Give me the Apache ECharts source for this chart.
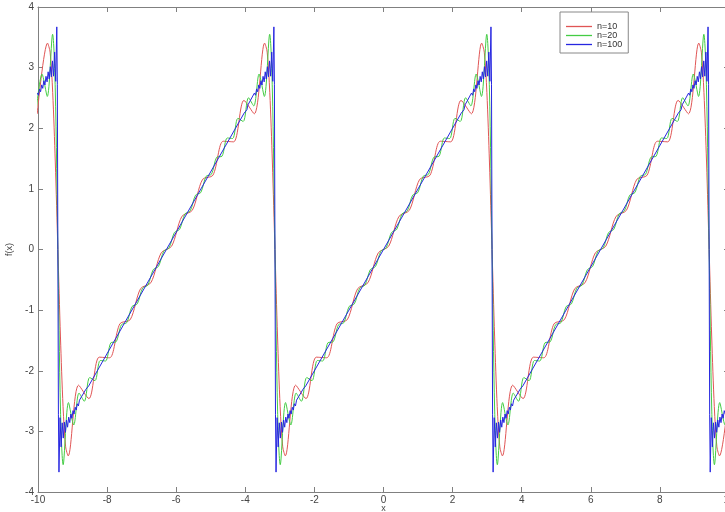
<!DOCTYPE html>
<html>
<head>
<meta charset="utf-8">
<script src="https://cdn.jsdelivr.net/npm/echarts@6/dist/echarts.min.js"></script>
<style>
html,body{margin:0;padding:0;background:#fff;}
#chart{width:725px;height:512px;}
</style>
</head>
<body>
<div id="chart"></div>
<script>
// Axis settings
const xTicks = [-10, -8, -6, -4, -2, 0, 2, 4, 6, 8, 10];
const yTicks = [-4, -3, -2, -1, 0, 1, 2, 3, 4];
const seriesNames = ['n=10', 'n=20', 'n=100'];

// n=10 partial sum
const redX = [
-10.0232,-9.7240,-9.6498,-9.5748,-9.4998,
-9.4248,-9.3498,-9.2748,-9.1998,-9.1256,-8.8264,-8.5272,-8.2280,-7.9288,-7.6296,-7.3304,-7.0312,-6.7320,-6.4328,
-6.1336,-5.8344,-5.5352,-5.2360,-4.9368,-4.6376,-4.3384,-4.0392,-3.7400,-3.4408,-3.3666,-3.2916,-3.2166,
-3.1416,-3.0666,-2.9916,-2.9166,-2.8424,-2.5432,-2.2440,-1.9448,-1.6456,-1.3464,-1.0472,-0.7480,-0.4488,-0.1496,
0.1496,0.4488,0.7480,1.0472,1.3464,1.6456,1.9448,2.2440,2.5432,2.8424,2.9166,2.9916,3.0666,
3.1416,3.2166,3.2916,3.3666,3.4408,3.7400,4.0392,4.3384,4.6376,4.9368,5.2360,5.5352,5.8344,6.1336,
6.4328,6.7320,7.0312,7.3304,7.6296,7.9288,8.2280,8.5272,8.8264,9.1256,9.1998,9.2748,9.3498,
9.4248,9.4998,9.5748,9.6498,9.7240,10.0232
];
const redY = [
2.238,3.404,3.255,2.592,1.443,
0,-1.443,-2.592,-3.255,-3.404,-2.238,-2.459,-1.776,-1.786,-1.224,-1.157,-0.646,-0.547,-0.054,
0.054,0.547,0.646,1.157,1.224,1.786,1.776,2.459,2.238,3.404,3.255,2.592,1.443,
0,-1.443,-2.592,-3.255,-3.404,-2.238,-2.459,-1.776,-1.786,-1.224,-1.157,-0.646,-0.547,-0.054,
0.054,0.547,0.646,1.157,1.224,1.786,1.776,2.459,2.238,3.404,3.255,2.592,1.443,
0,-1.443,-2.592,-3.255,-3.404,-2.238,-2.459,-1.776,-1.786,-1.224,-1.157,-0.646,-0.547,-0.054,
0.054,0.547,0.646,1.157,1.224,1.786,1.776,2.459,2.238,3.404,3.255,2.592,1.443,
0,-1.443,-2.592,-3.255,-3.404,-2.238
];

// n=20 partial sum
const greenX = [
-10.0378,-9.8845,-9.7313,-9.5780,-9.5014,
-9.4248,-9.3482,-9.2716,-9.1183,-8.9651,-8.8118,-8.6586,-8.5053,-8.3521,-8.1988,-8.0456,-7.8923,
-7.7391,-7.5858,-7.4326,-7.2793,-7.1261,-6.9728,-6.8196,-6.6663,-6.5131,-6.3598,
-6.2066,-6.0533,-5.9001,-5.7468,-5.5936,-5.4403,-5.2871,-5.1338,-4.9806,-4.8273,
-4.6741,-4.5208,-4.3676,-4.2143,-4.0611,-3.9078,-3.7546,-3.6013,-3.4481,-3.2948,-3.2182,
-3.1416,-3.0650,-2.9884,-2.8351,-2.6819,-2.5286,-2.3754,-2.2221,-2.0689,-1.9156,-1.7624,-1.6091,
-1.4559,-1.3026,-1.1494,-0.9961,-0.8429,-0.6896,-0.5364,-0.3831,-0.2299,-0.0766,
0.0766,0.2299,0.3831,0.5364,0.6896,0.8429,0.9961,1.1494,1.3026,1.4559,
1.6091,1.7624,1.9156,2.0689,2.2221,2.3754,2.5286,2.6819,2.8351,2.9884,3.0650,
3.1416,3.2182,3.2948,3.4481,3.6013,3.7546,3.9078,4.0611,4.2143,4.3676,4.5208,4.6741,
4.8273,4.9806,5.1338,5.2871,5.4403,5.5936,5.7468,5.9001,6.0533,6.2066,
6.3598,6.5131,6.6663,6.8196,6.9728,7.1261,7.2793,7.4326,7.5858,7.7391,
7.8923,8.0456,8.1988,8.3521,8.5053,8.6586,8.8118,8.9651,9.1183,9.2716,9.3482,
9.4248,9.5014,9.5780,9.7313,9.8845,10.0378
];
const greenY = [
2.369,2.893,2.525,3.550,2.665,
0,-2.665,-3.550,-2.525,-2.893,-2.369,-2.503,-2.112,-2.164,-1.831,-1.839,-1.539,
-1.521,-1.241,-1.208,-0.941,-0.896,-0.638,-0.587,-0.333,-0.279,-0.028,
0.028,0.279,0.333,0.587,0.638,0.896,0.941,1.208,1.241,1.521,
1.539,1.839,1.831,2.164,2.112,2.503,2.369,2.893,2.525,3.550,2.665,
0,-2.665,-3.550,-2.525,-2.893,-2.369,-2.503,-2.112,-2.164,-1.831,-1.839,-1.539,
-1.521,-1.241,-1.208,-0.941,-0.896,-0.638,-0.587,-0.333,-0.279,-0.028,
0.028,0.279,0.333,0.587,0.638,0.896,0.941,1.208,1.241,1.521,
1.539,1.839,1.831,2.164,2.112,2.503,2.369,2.893,2.525,3.550,2.665,
0,-2.665,-3.550,-2.525,-2.893,-2.369,-2.503,-2.112,-2.164,-1.831,-1.839,-1.539,
-1.521,-1.241,-1.208,-0.941,-0.896,-0.638,-0.587,-0.333,-0.279,-0.028,
0.028,0.279,0.333,0.587,0.638,0.896,0.941,1.208,1.241,1.521,
1.539,1.839,1.831,2.164,2.112,2.503,2.369,2.893,2.525,3.550,2.665,
0,-2.665,-3.550,-2.525,-2.893,-2.369
];

// n=100 partial sum
const blueX = [
-10.0187,-9.9875,-9.9562,-9.9250,-9.8937,-9.8624,-9.8312,-9.7999,-9.7687,-9.7374,
-9.7061,-9.6749,-9.6436,-9.6124,-9.5811,-9.5498,-9.5186,-9.4874,-9.4561,-9.4404,
-9.4248,-9.4092,-9.3935,-9.3622,-9.3310,-9.2998,-9.2685,-9.2372,-9.2060,-9.1747,-9.1435,
-9.1122,-9.0809,-9.0497,-9.0184,-8.9872,-8.9559,-8.9246,-8.8934,-8.8621,-8.8309,
-8.7996,-8.7684,-8.7371,-8.7059,-8.6746,-8.6433,-8.6121,-8.5332,
-4.0332,-3.9543,-3.9231,-3.8918,-3.8605,-3.8293,-3.7980,-3.7668,-3.7355,-3.7043,
-3.6730,-3.6418,-3.6105,-3.5792,-3.5480,-3.5167,-3.4855,-3.4542,-3.4229,-3.3917,
-3.3604,-3.3292,-3.2979,-3.2666,-3.2354,-3.2042,-3.1729,-3.1572,
-3.1416,-3.1260,-3.1103,-3.0790,-3.0478,-3.0166,-2.9853,-2.9540,-2.9228,-2.8915,-2.8603,
-2.8290,-2.7977,-2.7665,-2.7352,-2.7040,-2.6727,-2.6414,-2.6102,-2.5789,-2.5477,
-2.5164,-2.4852,-2.4539,-2.4227,-2.3914,-2.3601,-2.3289,-2.2500,
2.2500,2.3289,2.3601,2.3914,2.4227,2.4539,2.4852,2.5164,2.5477,2.5789,
2.6102,2.6414,2.6727,2.7040,2.7352,2.7665,2.7977,2.8290,2.8603,2.8915,
2.9228,2.9540,2.9853,3.0166,3.0478,3.0790,3.1103,3.1260,
3.1416,3.1572,3.1729,3.2042,3.2354,3.2666,3.2979,3.3292,3.3604,3.3917,3.4229,
3.4542,3.4855,3.5167,3.5480,3.5792,3.6105,3.6418,3.6730,3.7043,3.7355,
3.7668,3.7980,3.8293,3.8605,3.8918,3.9231,3.9543,4.0332,
8.5332,8.6121,8.6433,8.6746,8.7059,8.7371,8.7684,8.7996,8.8309,8.8621,
8.8934,8.9246,8.9559,8.9872,9.0184,9.0497,9.0809,9.1122,9.1435,9.1747,
9.2060,9.2372,9.2685,9.2998,9.3310,9.3622,9.3935,9.4092,
9.4248,9.4404,9.4561,9.4874,9.5186,9.5498,9.5811,9.6124,9.6436,9.6749,9.7061,
9.7374,9.7687,9.7999,9.8312,9.8624,9.8937,9.9250,9.9562,9.9875,10.0187
];
const blueY = [
2.581,2.544,2.648,2.602,2.715,2.658,2.784,2.713,2.856,2.765,
2.931,2.812,3.014,2.848,3.111,2.859,3.256,2.774,3.672,2.726,
0,-2.726,-3.672,-2.774,-3.256,-2.859,-3.111,-2.848,-3.014,-2.812,-2.931,
-2.765,-2.856,-2.713,-2.784,-2.658,-2.715,-2.602,-2.648,-2.544,-2.581,
-2.485,-2.516,-2.425,-2.450,-2.365,-2.386,-2.304,-2.250,
2.250,2.304,2.386,2.365,2.450,2.425,2.516,2.485,2.581,2.544,
2.648,2.602,2.715,2.658,2.784,2.713,2.856,2.765,2.931,2.812,
3.014,2.848,3.111,2.859,3.256,2.774,3.672,2.726,
0,-2.726,-3.672,-2.774,-3.256,-2.859,-3.111,-2.848,-3.014,-2.812,-2.931,
-2.765,-2.856,-2.713,-2.784,-2.658,-2.715,-2.602,-2.648,-2.544,-2.581,
-2.485,-2.516,-2.425,-2.450,-2.365,-2.386,-2.304,-2.250,
2.250,2.304,2.386,2.365,2.450,2.425,2.516,2.485,2.581,2.544,
2.648,2.602,2.715,2.658,2.784,2.713,2.856,2.765,2.931,2.812,
3.014,2.848,3.111,2.859,3.256,2.774,3.672,2.726,
0,-2.726,-3.672,-2.774,-3.256,-2.859,-3.111,-2.848,-3.014,-2.812,-2.931,
-2.765,-2.856,-2.713,-2.784,-2.658,-2.715,-2.602,-2.648,-2.544,-2.581,
-2.485,-2.516,-2.425,-2.450,-2.365,-2.386,-2.304,-2.250,
2.250,2.304,2.386,2.365,2.450,2.425,2.516,2.485,2.581,2.544,
2.648,2.602,2.715,2.658,2.784,2.713,2.856,2.765,2.931,2.812,
3.014,2.848,3.111,2.859,3.256,2.774,3.672,2.726,
0,-2.726,-3.672,-2.774,-3.256,-2.859,-3.111,-2.848,-3.014,-2.812,-2.931,
-2.765,-2.856,-2.713,-2.784,-2.658,-2.715,-2.602,-2.648,-2.544,-2.581
];

function pairs(xs, ys) { return xs.map((x, i) => [x, ys[i]]); }

const FONT = 'Liberation Sans, Arial, sans-serif';
const axisGray = '#808080';
const labelColor = '#444';
const colors = ['#e05555', '#44cc44', '#2626e0'];

const xMin = xTicks[0], xMax = xTicks[xTicks.length - 1], xStep = xTicks[1] - xTicks[0];
const yMin = yTicks[0], yMax = yTicks[yTicks.length - 1], yStep = yTicks[1] - yTicks[0];

const chart = echarts.init(document.getElementById('chart'), null, { renderer: 'canvas' });
const baseAxisLine = { show: true, onZero: false, lineStyle: { color: axisGray, width: 1 } };
const baseTick = { show: true, inside: true, length: 5, lineStyle: { color: axisGray } };
const lineIcon = 'path://M0,0L26,0L26,1.3L0,1.3Z';

chart.setOption({
  animation: false,
  backgroundColor: '#ffffff',
  grid: { left: 38, right: -4, top: 7, bottom: 20, containLabel: false, outerBoundsMode: 'none' },
  legend: {
    orient: 'vertical',
    left: 560, top: 12,
    padding: [10, 6, 4, 6],
    itemGap: 0,
    itemWidth: 26, itemHeight: 12,
    borderColor: '#888', borderWidth: 1,
    backgroundColor: '#fff',
    textStyle: { fontFamily: FONT, fontSize: 9, color: '#333' },
    data: seriesNames.map(n => ({ name: n, icon: lineIcon }))
  },
  xAxis: [{
    type: 'value', min: xMin, max: xMax, interval: xStep,
    name: 'x', nameLocation: 'middle', nameGap: 12, nameMoveOverlap: false,
    nameTextStyle: { fontFamily: FONT, fontSize: 9, color: labelColor },
    axisLine: baseAxisLine, axisTick: baseTick,
    axisLabel: { fontFamily: FONT, fontSize: 10, color: labelColor, margin: 3 },
    splitLine: { show: false }
  }, {
    type: 'value', position: 'top', min: xMin, max: xMax, interval: xStep,
    axisLine: baseAxisLine, axisTick: baseTick,
    axisLabel: { show: false }, splitLine: { show: false }
  }],
  yAxis: [{
    type: 'value', min: yMin, max: yMax, interval: yStep,
    name: 'f(x)', nameLocation: 'middle', nameGap: 24, nameRotate: 90, nameMoveOverlap: false,
    nameTextStyle: { fontFamily: FONT, fontSize: 9, color: labelColor },
    axisLine: baseAxisLine, axisTick: baseTick,
    axisLabel: { fontFamily: FONT, fontSize: 10, color: labelColor, margin: 4 },
    splitLine: { show: false }
  }, {
    type: 'value', position: 'right', min: yMin, max: yMax, interval: yStep,
    axisLine: baseAxisLine, axisTick: baseTick,
    axisLabel: { show: false }, splitLine: { show: false }
  }],
  series: [
    { name: seriesNames[0], type: 'line', data: pairs(redX, redY), symbol: 'none', showSymbol: false,
      smooth: 0.3, lineStyle: { color: colors[0], width: 1 }, itemStyle: { color: colors[0] } },
    { name: seriesNames[1], type: 'line', data: pairs(greenX, greenY), symbol: 'none', showSymbol: false,
      smooth: 0.3, lineStyle: { color: colors[1], width: 1 }, itemStyle: { color: colors[1] } },
    { name: seriesNames[2], type: 'line', data: pairs(blueX, blueY), symbol: 'none', showSymbol: false,
      smooth: false, lineStyle: { color: colors[2], width: 1 }, itemStyle: { color: colors[2] } }
  ]
});
</script>
</body>
</html>
